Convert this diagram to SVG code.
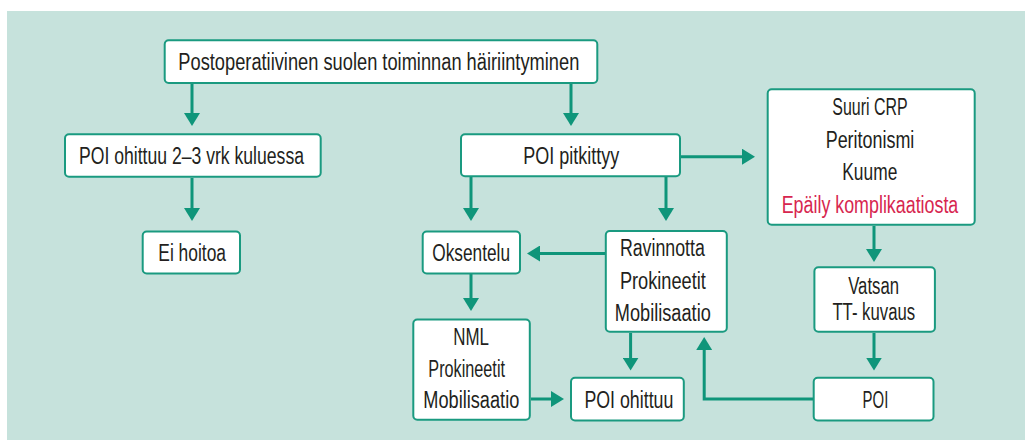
<svg xmlns="http://www.w3.org/2000/svg" width="1025" height="442" viewBox="0 0 1025 442">
<style>
.box{fill:#ffffff;stroke:#1a9a80;stroke-width:2}
.t{font-family:"Liberation Sans",Arial,sans-serif;font-size:23.5px;fill:#231f20}
.red{fill:#d7264f}
.c{fill:none;stroke:#0f957a;stroke-width:3}
</style>
<defs>
<marker id="ah" viewBox="0 0 13 16" markerWidth="13" markerHeight="16" refX="3" refY="8" orient="auto" markerUnits="userSpaceOnUse">
<path d="M0,0 L13,8 L0,16 Z" fill="#0f957a"/>
</marker>
</defs>
<rect x="0" y="0" width="1025" height="442" fill="#ffffff"/>
<rect x="7" y="11" width="1018" height="429" fill="#c6e2dc"/>
<g id="connectors">
<path class="c" d="M192,84 V116" marker-end="url(#ah)"/>
<path class="c" d="M571,84 V116" marker-end="url(#ah)"/>
<path class="c" d="M192,178 V211" marker-end="url(#ah)"/>
<path class="c" d="M471,177 V211" marker-end="url(#ah)"/>
<path class="c" d="M666,177 V211" marker-end="url(#ah)"/>
<path class="c" d="M681,156.7 H745" marker-end="url(#ah)"/>
<path class="c" d="M874,226 V252" marker-end="url(#ah)"/>
<path class="c" d="M605,253.5 H537" marker-end="url(#ah)"/>
<path class="c" d="M471,274 V301" marker-end="url(#ah)"/>
<path class="c" d="M630.6,333 V360.6" marker-end="url(#ah)"/>
<path class="c" d="M874,333 V360.6" marker-end="url(#ah)"/>
<path class="c" d="M531,399 H554" marker-end="url(#ah)"/>
<path class="c" d="M813,399 H704.2 V347" marker-end="url(#ah)"/>
</g>
<g id="n-top">
<rect class="box" x="164.7" y="40.3" width="432.6" height="42.7" rx="4"/>
<text class="t" x="178.3" y="70" textLength="401" lengthAdjust="spacingAndGlyphs">Postoperatiivinen suolen toiminnan häiriintyminen</text>
</g>
<g id="n-ohittuu23">
<rect class="box" x="65" y="134.3" width="255.7" height="42.4" rx="4"/>
<text class="t" x="79" y="164" textLength="225" lengthAdjust="spacingAndGlyphs">POI ohittuu 2–3 vrk kuluessa</text>
</g>
<g id="n-pitkittyy">
<rect class="box" x="461" y="134.3" width="219" height="42" rx="4"/>
<text class="t" x="523.3" y="164" textLength="96" lengthAdjust="spacingAndGlyphs">POI pitkittyy</text>
</g>
<g id="n-epaily">
<rect class="box" x="767.7" y="89.3" width="207" height="135.4" rx="4"/>
<text class="t" x="832.3" y="115" textLength="75.4" lengthAdjust="spacingAndGlyphs">Suuri CRP</text>
<text class="t" x="825.7" y="147.7" textLength="88.6" lengthAdjust="spacingAndGlyphs">Peritonismi</text>
<text class="t" x="842.3" y="180" textLength="55" lengthAdjust="spacingAndGlyphs">Kuume</text>
<text class="t red" x="781.7" y="213" textLength="176.6" lengthAdjust="spacingAndGlyphs">Epäily komplikaatiosta</text>
</g>
<g id="n-eihoitoa">
<rect class="box" x="142.7" y="231.5" width="97.3" height="42" rx="4"/>
<text class="t" x="158.3" y="260.7" textLength="67.7" lengthAdjust="spacingAndGlyphs">Ei hoitoa</text>
</g>
<g id="n-oksentelu">
<rect class="box" x="422.7" y="231.5" width="97.3" height="42" rx="4"/>
<text class="t" x="432.3" y="260.7" textLength="77.7" lengthAdjust="spacingAndGlyphs">Oksentelu</text>
</g>
<g id="n-ravinnotta">
<rect class="box" x="605.8" y="231" width="121" height="100.8" rx="4"/>
<text class="t" x="619.9" y="256.2" textLength="85" lengthAdjust="spacingAndGlyphs">Ravinnotta</text>
<text class="t" x="619.9" y="288.6" textLength="86" lengthAdjust="spacingAndGlyphs">Prokineetit</text>
<text class="t" x="614.8" y="321.4" textLength="96" lengthAdjust="spacingAndGlyphs">Mobilisaatio</text>
</g>
<g id="n-vatsan">
<rect class="box" x="814.4" y="267.2" width="120.5" height="64.6" rx="4"/>
<text class="t" x="848.2" y="293.7" textLength="50.8" lengthAdjust="spacingAndGlyphs">Vatsan</text>
<text class="t" x="832.4" y="320.4" textLength="82.7" lengthAdjust="spacingAndGlyphs">TT- kuvaus</text>
</g>
<g id="n-nml">
<rect class="box" x="413.3" y="319.5" width="116.5" height="100.2" rx="4"/>
<text class="t" x="453.3" y="344.7" textLength="35.7" lengthAdjust="spacingAndGlyphs">NML</text>
<text class="t" x="428.3" y="376.7" textLength="76.7" lengthAdjust="spacingAndGlyphs">Prokineetit</text>
<text class="t" x="423.3" y="408.3" textLength="96" lengthAdjust="spacingAndGlyphs">Mobilisaatio</text>
</g>
<g id="n-ohittuu">
<rect class="box" x="571" y="377.7" width="112.8" height="42.8" rx="4"/>
<text class="t" x="584.4" y="407.5" textLength="89" lengthAdjust="spacingAndGlyphs">POI ohittuu</text>
</g>
<g id="n-poi">
<rect class="box" x="813.7" y="377.7" width="119.8" height="42.8" rx="4"/>
<text class="t" x="862.6" y="407.5" textLength="25.7" lengthAdjust="spacingAndGlyphs">POI</text>
</g>
</svg>
